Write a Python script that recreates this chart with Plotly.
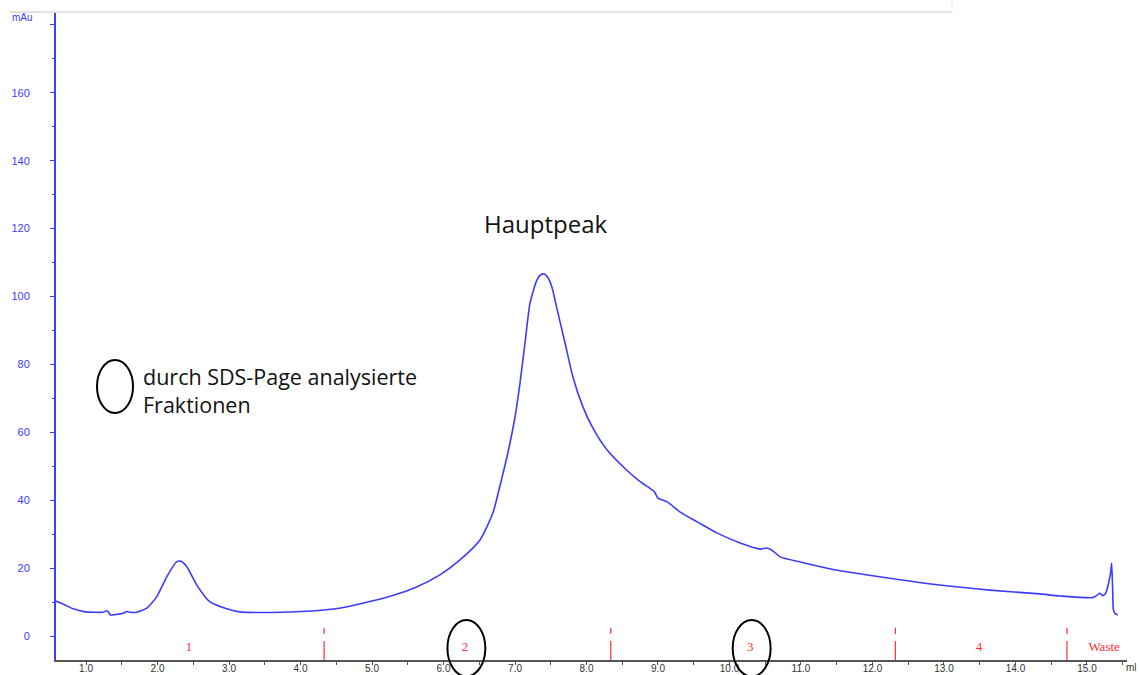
import plotly.graph_objects as go

# Elution volume (ml) and UV absorbance (mAu) of the chromatogram
volume_ml = [0.58, 0.70, 0.82, 0.99, 1.10, 1.24, 1.27, 1.30, 1.34, 1.40, 1.52, 1.57, 1.62,
             1.71, 1.85, 1.99, 2.13, 2.27, 2.33, 2.41, 2.55, 2.73, 2.97, 3.15, 3.50,
             4.00, 4.30, 4.60, 5.00, 5.30, 5.60, 5.95, 6.23, 6.51, 6.69, 6.81, 6.90,
             7.00, 7.07, 7.14, 7.21, 7.30, 7.36, 7.41, 7.46, 7.52, 7.58, 7.70, 7.81,
             7.95, 8.09, 8.28, 8.56, 8.75, 8.86, 8.95, 9.00, 9.13, 9.31, 9.55, 9.83,
             10.15, 10.43, 10.52, 10.60, 10.71, 10.99, 11.38, 11.55, 12.24, 12.94,
             13.64, 14.34, 14.62, 15.08, 15.14, 15.18, 15.22, 15.26, 15.29, 15.33,
             15.345, 15.36, 15.37, 15.40, 15.43]
absorbance_mau = [10.3, 9.2, 8.0, 7.1, 7.0, 7.0, 7.3, 7.4, 6.2, 6.3, 6.7, 7.2, 7.0,
                  7.0, 8.2, 11.6, 17.5, 21.9, 22.0, 20.4, 15.0, 10.1, 8.0, 7.1, 6.9,
                  7.2, 7.6, 8.4, 10.3, 12.0, 14.2, 18.0, 22.4, 28.3, 36.2, 46.0, 53.9,
                  64.5, 74.5, 86.3, 98.0, 104.5, 106.4, 106.6, 105.6, 102.5, 97.0, 86.3, 76.3,
                  67.5, 61.2, 55.0, 48.9, 45.5, 43.9, 42.5, 40.6, 39.5, 36.5, 33.6, 30.3,
                  27.4, 25.6, 25.9, 25.2, 23.3, 21.8, 19.9, 19.2, 17.0, 15.0,
                  13.5, 12.4, 11.8, 11.3, 12.0, 12.6, 11.9, 12.5, 14.5, 18.5,
                  21.5, 13.5, 7.7, 6.5, 6.2]

# Fraction collector: boundaries between fractions and the fraction names
fraction_bounds = [4.33, 8.34, 12.32, 14.72]
fraction_names = ["1", "2", "3", "4", "Waste"]
fraction_label_ml = [2.44, 6.30, 10.29, 13.49, 15.24]
analysed_fractions = ["2", "3"]

y_tick_values = [0, 20, 40, 60, 80, 100, 120, 140, 160, 180]
y_tick_text = ["0", "20", "40", "60", "80", "100", "120", "140", "160", ""]
x_tick_values = list(range(1, 16))

X_RANGE = [0.58, 15.56]
Y_RANGE = [-7.07, 183.5]

W, H = 1139, 675
M_L, M_R, M_T, M_B = 56, 12, 13, 15

BLUE = "#3c3cff"
RED = "#ff3030"


def px_to_paper(px, py):
    return ((px - M_L) / (W - M_L - M_R), (H - M_B - py) / (H - M_T - M_B))


def y_to_paper(v):
    return (v - Y_RANGE[0]) / (Y_RANGE[1] - Y_RANGE[0])


def x_to_paper(v):
    return (v - X_RANGE[0]) / (X_RANGE[1] - X_RANGE[0])


fig = go.Figure()

fig.add_trace(go.Scatter(
    x=volume_ml, y=absorbance_mau, mode="lines",
    line=dict(color=BLUE, width=1.6, shape="spline", smoothing=0.6),
    hoverinfo="x+y", showlegend=False,
))

# Fraction boundary marks: short dash above, longer stroke down to the axis
for b in fraction_bounds:
    fig.add_trace(go.Scatter(
        x=[b, b, None, b, b], y=[2.4, 0.6, None, -1.5, Y_RANGE[0]],
        mode="lines", line=dict(color=RED, width=1.2),
        hoverinfo="skip", showlegend=False,
    ))

fig.add_trace(go.Scatter(
    x=fraction_label_ml, y=[-3.6] * len(fraction_names), text=fraction_names,
    mode="text", textfont=dict(family="Liberation Serif", size=13, color=RED),
    hoverinfo="skip", showlegend=False,
))

shapes = []
# Ellipses around the fractions analysed by SDS-PAGE
ell_half_w = 0.265
ell_lo, ell_hi = -11.9, 4.7
for name, xm in zip(fraction_names, fraction_label_ml):
    if name in analysed_fractions:
        shapes.append(dict(
            type="circle", xref="paper", yref="paper",
            x0=x_to_paper(xm - ell_half_w + 0.02), x1=x_to_paper(xm + ell_half_w + 0.02),
            y0=y_to_paper(ell_lo), y1=y_to_paper(ell_hi),
            line=dict(color="black", width=2),
        ))

# Legend ellipse
lx0, ly0 = px_to_paper(97, 413)
lx1, ly1 = px_to_paper(133, 360)
shapes.append(dict(type="circle", xref="paper", yref="paper",
                   x0=lx0, x1=lx1, y0=ly0, y1=ly1,
                   line=dict(color="black", width=2)))

# Window frame line along the top
fx0, fy = px_to_paper(10, 12)
fx1, _ = px_to_paper(952, 12)
_, fy_top = px_to_paper(952, 0)
shapes.append(dict(type="line", xref="paper", yref="paper",
                   x0=fx0, x1=fx1, y0=fy, y1=fy,
                   line=dict(color="#d8d8d8", width=1.5)))
shapes.append(dict(type="line", xref="paper", yref="paper",
                   x0=fx1, x1=fx1, y0=fy, y1=fy_top,
                   line=dict(color="#ececec", width=1)))

annotations = []
mx, my = px_to_paper(10, 18)
annotations.append(dict(text="mAu", xref="paper", yref="paper", x=mx, y=my,
                        xanchor="left", yanchor="middle", showarrow=False,
                        font=dict(family="Liberation Sans", size=10, color=BLUE)))
ux, uy = px_to_paper(1124, 667)
annotations.append(dict(text="ml", xref="paper", yref="paper", x=ux, y=uy,
                        xanchor="left", yanchor="middle", showarrow=False,
                        font=dict(family="Liberation Sans", size=10, color="#333333")))
annotations.append(dict(text="Hauptpeak", x=7.43, y=121.5, xref="x", yref="y",
                        showarrow=False, xanchor="center", yanchor="middle",
                        font=dict(family="Open Sans", size=24, color="#111111")))
tx, ty = px_to_paper(141, 390)
annotations.append(dict(text="durch SDS-Page analysierte<br>Fraktionen",
                        xref="paper", yref="paper", x=tx, y=ty,
                        xanchor="left", yanchor="middle", align="left",
                        showarrow=False,
                        font=dict(family="Open Sans", size=21.5, color="#111111")))

fig.update_layout(
    width=W, height=H,
    margin=dict(l=M_L, r=M_R, t=M_T, b=M_B, autoexpand=False),
    paper_bgcolor="white", plot_bgcolor="white",
    shapes=shapes, annotations=annotations,
    showlegend=False,
)

fig.update_xaxes(
    range=X_RANGE, showgrid=False, zeroline=False, automargin=False,
    showline=True, linecolor="#555555", linewidth=1.5,
    tickvals=x_tick_values, ticktext=[f"{v:.1f}" for v in x_tick_values],
    ticks="outside", ticklen=3, tickcolor="#555555",
    minor=dict(dtick=0.5, tick0=0.5, ticks="outside", ticklen=3, tickcolor="#555555"),
    tickfont=dict(family="Liberation Sans", size=10, color="#333333"),
    ticklabelstandoff=-5,
)
fig.update_yaxes(
    range=Y_RANGE, showgrid=False, zeroline=False, automargin=False,
    showline=True, linecolor=BLUE, linewidth=2,
    tickvals=y_tick_values, ticktext=y_tick_text,
    ticks="outside", ticklen=4, tickcolor=BLUE,
    minor=dict(dtick=10, tick0=0, ticks="outside", ticklen=2, tickcolor=BLUE),
    tickfont=dict(family="Liberation Sans", size=11, color=BLUE),
    ticklabelstandoff=18,
)

fig.write_html("out.html")
